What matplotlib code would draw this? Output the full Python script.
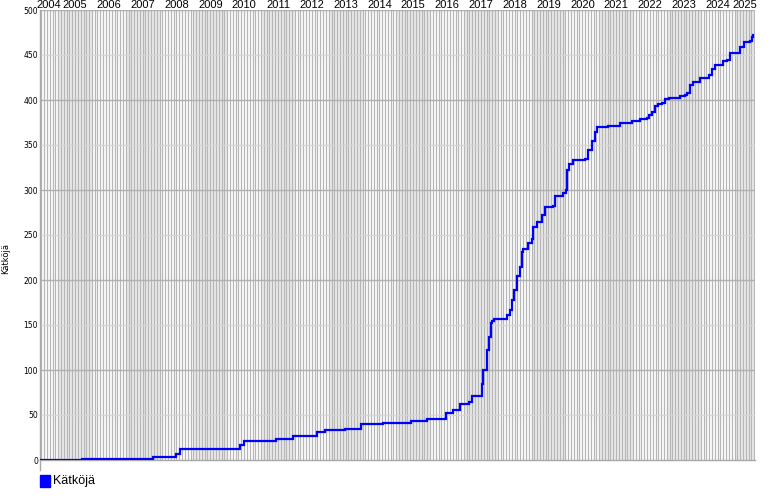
import matplotlib
matplotlib.use('Agg')
import matplotlib.pyplot as plt
import matplotlib.dates as mdates
import matplotlib.transforms as mtransforms
import pandas as pd

# Cumulative count (date reached, total)
dates = ['2004-06-20', '2005-09-10', '2007-10-20', '2008-07-01', '2008-08-05',
         '2010-05-15', '2010-07-05', '2011-06-15', '2011-12-10', '2012-08-25',
         '2012-11-20', '2013-06-25', '2013-12-15', '2014-08-10', '2015-06-10',
         '2015-11-25', '2016-06-20', '2016-09-05', '2016-11-15', '2017-02-25',
         '2017-03-25', '2017-07-10', '2017-07-25', '2017-09-01', '2017-10-01',
         '2017-10-15', '2017-10-25', '2017-11-20', '2018-04-05', '2018-05-10',
         '2018-06-08', '2018-06-25', '2018-07-30', '2018-08-28', '2018-09-15',
         '2018-10-05', '2018-11-18', '2019-01-05', '2019-01-20', '2019-02-25',
         '2019-04-20', '2019-05-25', '2019-08-20', '2019-09-10', '2019-12-10',
         '2020-01-05', '2020-01-15', '2020-02-05', '2020-03-25', '2020-07-30',
         '2020-09-05', '2020-10-12', '2020-11-18', '2020-12-05', '2021-04-05',
         '2021-08-15', '2021-12-20', '2022-03-20', '2022-06-01', '2022-06-20',
         '2022-07-25', '2022-08-30', '2022-10-01', '2022-11-10', '2022-12-15',
         '2023-01-20', '2023-05-20', '2023-07-15', '2023-08-05', '2023-09-10',
         '2023-10-15', '2023-12-28', '2024-03-05', '2024-04-05', '2024-05-01',
         '2024-06-05', '2024-09-01', '2024-10-15', '2024-11-15', '2025-03-01',
         '2025-04-15', '2025-06-15', '2025-07-10', '2025-07-22']
totals = [0, 1, 3, 7, 12,
          17, 21, 23, 27, 31,
          33, 35, 40, 41, 43,
          46, 52, 56, 62, 65,
          71, 85, 100, 122, 137,
          152, 155, 157, 161, 167,
          178, 189, 205, 215, 231,
          235, 241, 246, 259, 265,
          272, 281, 282, 293, 297,
          300, 322, 329, 333, 334,
          344, 354, 365, 370, 371,
          374, 377, 379, 380, 383,
          387, 393, 396, 397, 401,
          402, 404, 406, 408, 417,
          420, 424, 425, 428, 435,
          439, 443, 444, 452, 459,
          465, 466, 470, 472]
years = list(range(2004, 2026))
yticks = list(range(0, 501, 50))
series_name = 'Kätköjä'

x_start = pd.Timestamp('2004-06-18')
x_end = pd.Timestamp('2025-08-10')

fig = plt.figure(figsize=(7.7, 5), dpi=100)
ax = fig.add_axes([40 / 770, 40 / 500, 715 / 770, 450 / 500])

# alternate year shading (odd years)
for yr in years:
    if yr % 2 == 1:
        ax.axvspan(pd.Timestamp(f'{yr}-01-01'), pd.Timestamp(f'{yr + 1}-01-01'),
                   color='#ebebeb', lw=0, zorder=0)

# monthly lines
for m in pd.date_range('2004-07-01', '2025-08-01', freq='MS'):
    ax.axvline(m, color='#b6b6b6', lw=0.9, zorder=1)

# horizontal grid
for v in yticks[1:]:
    ax.axhline(v, color='#b0b0b0' if v % 100 == 0 else '#d6d6d6', lw=1.0, zorder=2)

ax.plot(pd.to_datetime(dates), totals, color='#0000ff', lw=1.6,
        drawstyle='steps-post', zorder=3, solid_joinstyle='miter')

ax.set_xlim(x_start, x_end)
ax.set_ylim(0, 500)
ax.set_xticks([])
ax.set_yticks(yticks)
ax.set_yticklabels([str(v) for v in yticks], fontsize=5.5, family='DejaVu Sans')
ax.tick_params(axis='y', length=0, pad=1.5)

for s in ['top', 'right']:
    ax.spines[s].set_visible(False)
for s in ['left', 'bottom']:
    ax.spines[s].set_color('#a8a8a8')
    ax.spines[s].set_linewidth(1.0)
ax.plot([0, 0], [0, -10 / 450], transform=ax.transAxes, color='#a8a8a8',
        lw=1.0, clip_on=False)

# year labels along the top, centred in the visible part of each year
trans = mtransforms.blended_transform_factory(ax.transData, ax.transAxes)
x0 = mdates.date2num(x_start)
x1 = mdates.date2num(x_end)
for yr in years:
    a = max(mdates.date2num(pd.Timestamp(f'{yr}-01-01')), x0)
    b = min(mdates.date2num(pd.Timestamp(f'{yr + 1}-01-01')), x1)
    ax.text((a + b) / 2, 1.012, str(yr), transform=trans, ha='center', va='center',
            fontsize=8, family='Liberation Sans', color='black')

fig.text(6 / 770, 1 - 258 / 500, series_name, rotation=90, ha='center', va='center',
         fontsize=6, family='DejaVu Sans')

# legend
fig.patches.append(plt.Rectangle((40 / 770, 1 - 487 / 500), 10 / 770, 12 / 500,
                                 transform=fig.transFigure, color='#0000ff'))
fig.text(53 / 770, 1 - 481 / 500, series_name, ha='left', va='center',
         fontsize=9, family='Liberation Sans')

fig.savefig('out.png', dpi=100)
